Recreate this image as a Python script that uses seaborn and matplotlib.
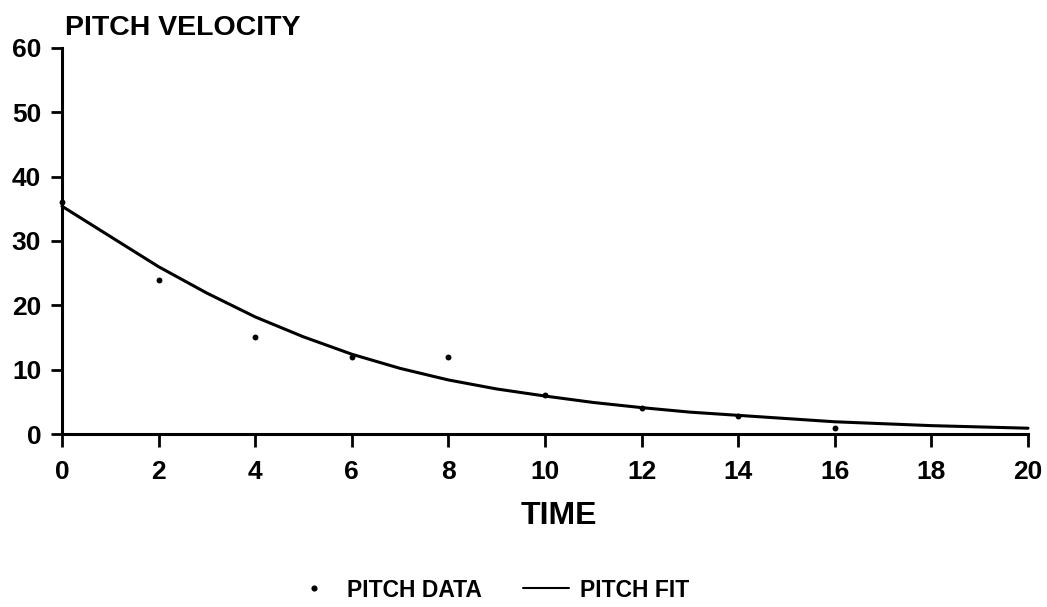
import matplotlib
matplotlib.use("Agg")
import matplotlib.pyplot as plt
import seaborn as sns
import pandas as pd
from matplotlib.lines import Line2D

# Measured pitch velocity samples
data_time = [0, 2, 4, 6, 8, 10, 12, 14, 16]
data_velocity = [36, 24, 15, 12, 12, 6, 4, 2.8, 1]

# Fitted decay curve, sampled every time unit
fit_time = [0, 1, 2, 3, 4, 5, 6, 7, 8, 9, 10, 11, 12, 13, 14, 15, 16, 17, 18, 19, 20]
fit_velocity = [35.4, 30.7, 26.0, 21.9, 18.2, 15.1, 12.4, 10.2, 8.4, 7.0, 5.9,
                4.9, 4.1, 3.4, 2.9, 2.4, 1.9, 1.6, 1.3, 1.1, 0.9]

x_ticks = [0, 2, 4, 6, 8, 10, 12, 14, 16, 18, 20]
y_ticks = [0, 10, 20, 30, 40, 50, 60]

sns.set_theme(style="ticks")
plt.rcParams["font.family"] = ["Liberation Sans", "DejaVu Sans"]
plt.rcParams.update({
    "text.color": "black",
    "axes.labelcolor": "black",
    "xtick.color": "black",
    "ytick.color": "black",
    "axes.edgecolor": "black",
})

df_data = pd.DataFrame({"time": data_time, "velocity": data_velocity})
df_fit = pd.DataFrame({"time": fit_time, "velocity": fit_velocity})

fig = plt.figure(figsize=(10.47, 6.07), dpi=100)
ax = fig.add_axes([0.0592, 0.285, 0.9227, 0.636])

sns.lineplot(data=df_fit, x="time", y="velocity", ax=ax, color="black",
             linewidth=2.2, clip_on=False)
sns.scatterplot(data=df_data, x="time", y="velocity", ax=ax, color="black",
                s=18, linewidth=0, clip_on=False, zorder=5)

ax.set_xlim(0, 20)
ax.set_ylim(0, 60)
ax.set_xticks(x_ticks)
ax.set_yticks(y_ticks)
ax.set_xticklabels([str(t) for t in x_ticks], fontsize=19, fontweight="bold")
ax.set_yticklabels([str(t) for t in y_ticks], fontsize=19, fontweight="bold")
ax.tick_params(axis="x", direction="out", length=9, width=2, pad=10)
ax.tick_params(axis="y", direction="out", length=8, width=2, pad=7)

for side in ("top", "right"):
    ax.spines[side].set_visible(False)
for side in ("left", "bottom"):
    ax.spines[side].set_linewidth(2.2)

ax.set_xlabel("TIME", fontsize=23, fontweight="bold", labelpad=12)
ax.xaxis.label.set_x(0.514)
ax.set_ylabel("")
ax.text(0.003, 1.018, "PITCH VELOCITY", transform=ax.transAxes, fontsize=20.5,
        fontweight="bold", ha="left", va="bottom")

handles = [
    Line2D([], [], marker="o", linestyle="none", color="black", markersize=3.4),
    Line2D([], [], color="black", linewidth=1.5),
]
fig.legend(handles, ["PITCH DATA", "PITCH FIT"], loc="center",
           bbox_to_anchor=(0.468, 0.028), ncol=2, frameon=False,
           prop={"size": 16.5, "weight": "bold"}, handlelength=2.0,
           columnspacing=1.8, handletextpad=0.45)

fig.savefig("out.png", dpi=100, facecolor="white")
